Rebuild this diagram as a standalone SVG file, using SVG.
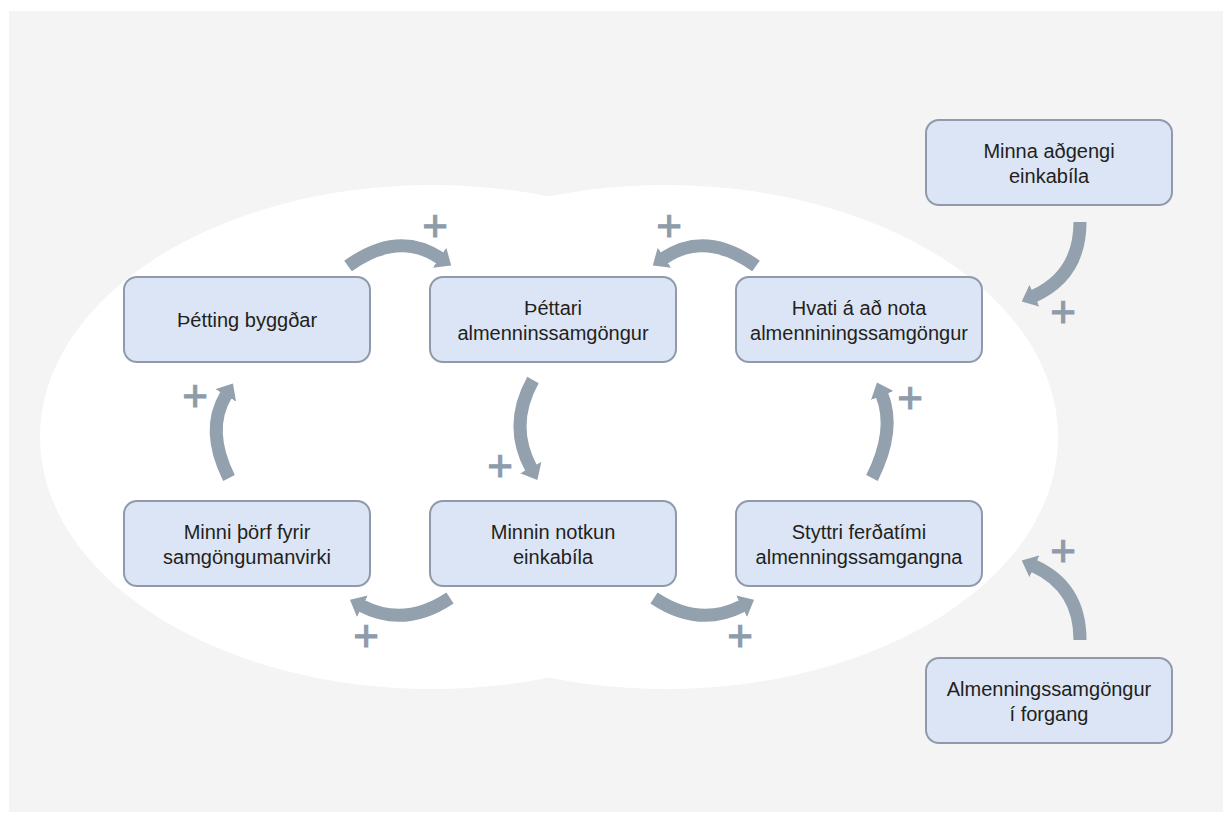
<svg xmlns="http://www.w3.org/2000/svg" width="1232" height="823" viewBox="0 0 1232 823">
  <defs>
    <style>
      .box { fill: #dce5f5; stroke: #8e9bab; stroke-width: 2; }
      .lbl { font-family: "Liberation Sans", Arial, sans-serif; font-size: 20px; fill: #231f20; text-anchor: middle; }
      .arr { fill: none; stroke: #93a0ad; stroke-width: 13; marker-end: url(#head); }
      .plus { font-family: "Liberation Sans", Arial, sans-serif; font-size: 44px; fill: #8e9bab; stroke: #8e9bab; stroke-width: 1; text-anchor: middle; }
    </style>
    <marker id="head" viewBox="0 0 14 24" refX="0.5" refY="12" markerWidth="14" markerHeight="24" markerUnits="userSpaceOnUse" orient="auto">
      <path d="M0,0 L14,12 L0,24 z" fill="#93a0ad"/>
    </marker>
  </defs>

  <rect x="9" y="11" width="1214" height="801" fill="#f4f4f4"/>
  <g id="background-lobes" fill="#ffffff">
    <ellipse cx="432" cy="437" rx="392" ry="252"/>
    <ellipse cx="666" cy="437" rx="392" ry="252"/>
  </g>

  <g id="connectors">
    <path class="arr" d="M348,266 Q398,230 440,258"/>
    <path class="arr" d="M756,266 Q706,230 664,258"/>
    <path class="arr" d="M229,478 Q205,430 226,395"/>
    <path class="arr" d="M533,380 Q508,425 531,468"/>
    <path class="arr" d="M872,478 Q896,430 882,395"/>
    <path class="arr" d="M450,598 Q405,628 362,606"/>
    <path class="arr" d="M654,598 Q699,628 742,606"/>
    <path class="arr" d="M1080,222 Q1080,275 1034,296"/>
    <path class="arr" d="M1080,640 Q1080,587 1034,566"/>
    <g id="signs">
      <text class="plus" x="435" y="241">+</text>
      <text class="plus" x="669" y="241">+</text>
      <text class="plus" x="195" y="411">+</text>
      <text class="plus" x="500" y="481">+</text>
      <text class="plus" x="910" y="413">+</text>
      <text class="plus" x="366" y="651">+</text>
      <text class="plus" x="740" y="651">+</text>
      <text class="plus" x="1063" y="327">+</text>
      <text class="plus" x="1063" y="566">+</text>
    </g>
  </g>

  <g id="n1">
    <rect class="box" x="124" y="277" width="246" height="85" rx="13"/>
    <text class="lbl" x="247" y="326.5">Þétting byggðar</text>
  </g>
  <g id="n2">
    <rect class="box" x="430" y="277" width="246" height="85" rx="13"/>
    <text class="lbl" x="553" y="314.5">Þéttari</text>
    <text class="lbl" x="553" y="339.5">almenninssamgöngur</text>
  </g>
  <g id="n3">
    <rect class="box" x="736" y="277" width="246" height="85" rx="13"/>
    <text class="lbl" x="859" y="314.5">Hvati á að nota</text>
    <text class="lbl" x="859" y="339.5">almenniningssamgöngur</text>
  </g>
  <g id="n4">
    <rect class="box" x="124" y="501" width="246" height="85" rx="13"/>
    <text class="lbl" x="247" y="538.5">Minni þörf fyrir</text>
    <text class="lbl" x="247" y="563.5">samgöngumanvirki</text>
  </g>
  <g id="n5">
    <rect class="box" x="430" y="501" width="246" height="85" rx="13"/>
    <text class="lbl" x="553" y="538.5">Minnin notkun</text>
    <text class="lbl" x="553" y="563.5">einkabíla</text>
  </g>
  <g id="n6">
    <rect class="box" x="736" y="501" width="246" height="85" rx="13"/>
    <text class="lbl" x="859" y="538.5">Styttri ferðatími</text>
    <text class="lbl" x="859" y="563.5">almenningssamgangna</text>
  </g>
  <g id="n7">
    <rect class="box" x="926" y="120" width="246" height="85" rx="13"/>
    <text class="lbl" x="1049" y="157.5">Minna aðgengi</text>
    <text class="lbl" x="1049" y="182.5">einkabíla</text>
  </g>
  <g id="n8">
    <rect class="box" x="926" y="658" width="246" height="85" rx="13"/>
    <text class="lbl" x="1049" y="695.5">Almenningssamgöngur</text>
    <text class="lbl" x="1049" y="720.5">í forgang</text>
  </g>
</svg>
